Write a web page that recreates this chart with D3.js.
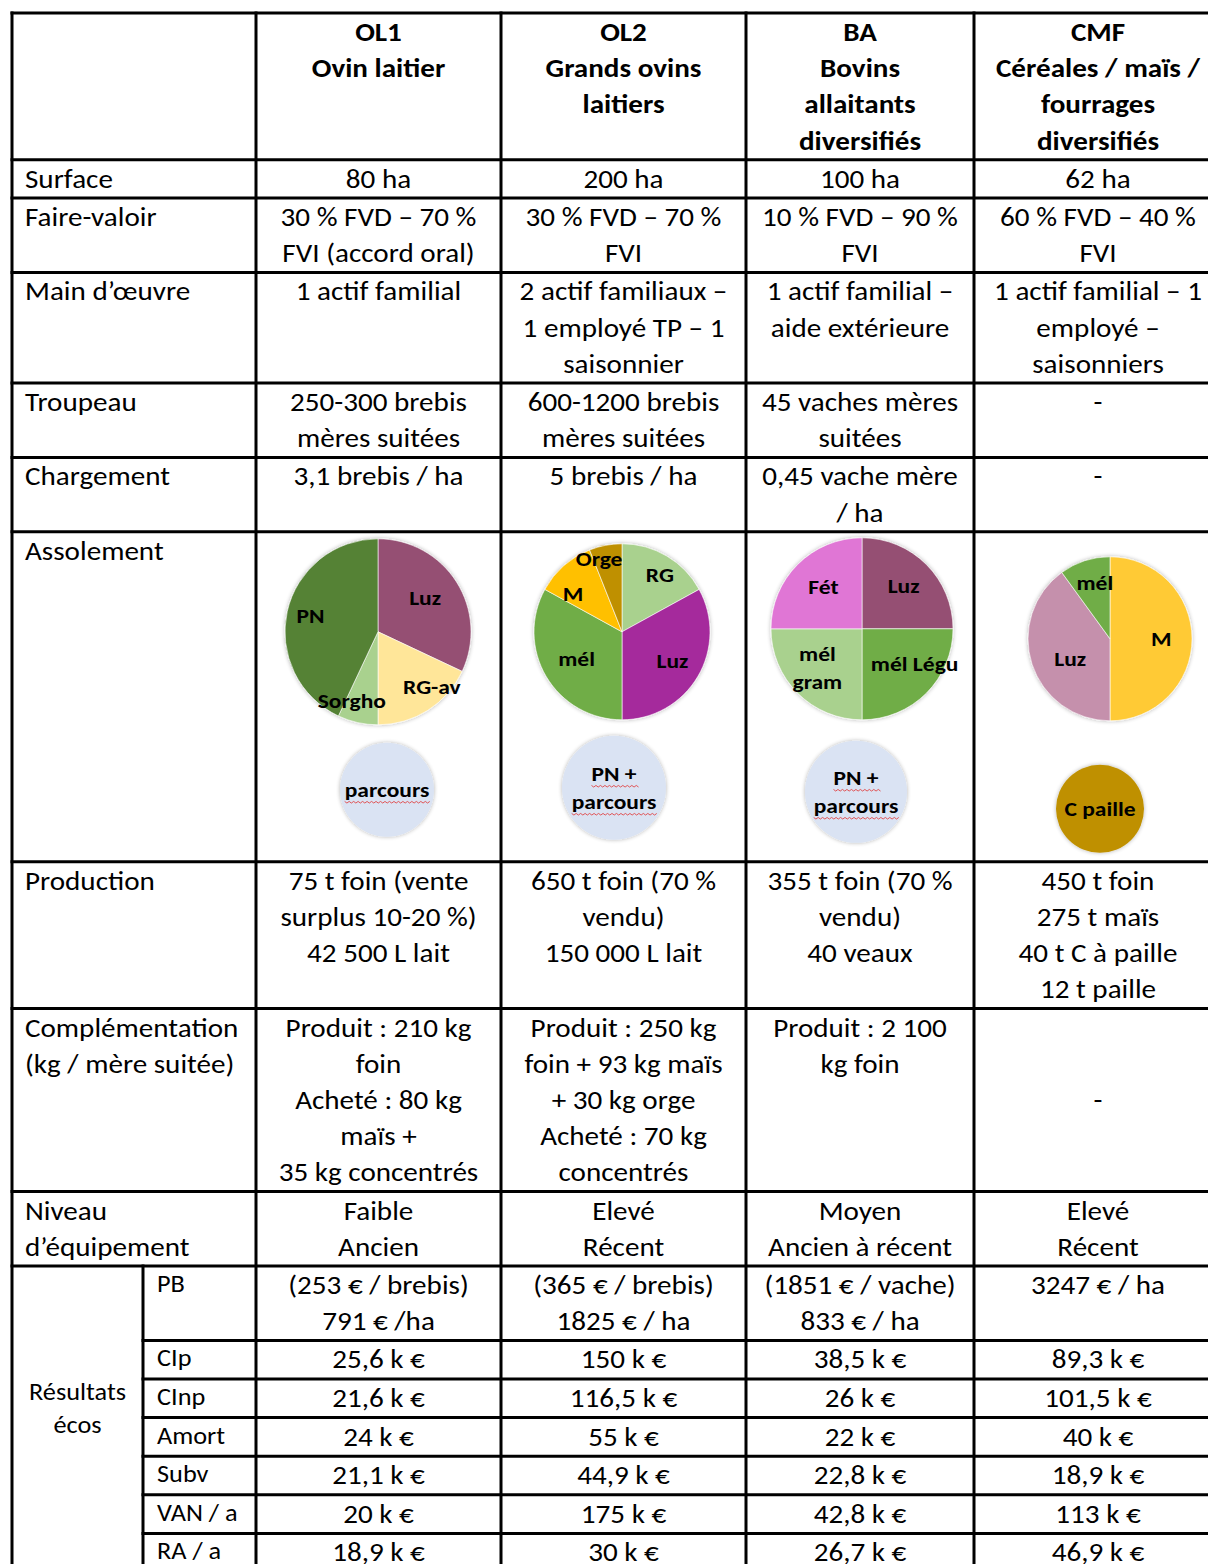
<!DOCTYPE html>
<html>
<head>
<meta charset="utf-8">
<script src="https://cdn.jsdelivr.net/npm/d3@7"></script>
<style>
  body { margin: 0; background: #fff; }
  svg { display: block; }
  text { font-family: Carlito, Lato, sans-serif; fill: #000; }
</style>
</head>
<body>
<div id="chart"></div>
<script>
// ---- data ----
const headerLines = [
  ["OL1", "Ovin laitier"],
  ["OL2", "Grands ovins", "laitiers"],
  ["BA", "Bovins", "allaitants", "diversifiés"],
  ["CMF", "Céréales / maïs /", "fourrages", "diversifiés"]
];
const rowLabels = [
  ["Surface"], ["Faire-valoir"], ["Main d’œuvre"], ["Troupeau"], ["Chargement"],
  ["Assolement"], ["Production"], ["Complémentation", "(kg / mère suitée)"],
  ["Niveau", "d’équipement"]
];
const surface = [["80 ha"], ["200 ha"], ["100 ha"], ["62 ha"]];
const faireValoir = [
  ["30 % FVD – 70 %", "FVI (accord oral)"], ["30 % FVD – 70 %", "FVI"],
  ["10 % FVD – 90 %", "FVI"], ["60 % FVD – 40 %", "FVI"]
];
const mainOeuvre = [
  ["1 actif familial"], ["2 actif familiaux –", "1 employé TP – 1", "saisonnier"],
  ["1 actif familial –", "aide extérieure"], ["1 actif familial – 1", "employé –", "saisonniers"]
];
const troupeau = [
  ["250-300 brebis", "mères suitées"], ["600-1200 brebis", "mères suitées"],
  ["45 vaches mères", "suitées"], ["-"]
];
const chargement = [["3,1 brebis / ha"], ["5 brebis / ha"], ["0,45 vache mère", "/ ha"], ["-"]];
const production = [
  ["75 t foin (vente", "surplus 10-20 %)", "42 500 L lait"],
  ["650 t foin (70 %", "vendu)", "150 000 L lait"],
  ["355 t foin (70 %", "vendu)", "40 veaux"],
  ["450 t foin", "275 t maïs", "40 t C à paille", "12 t paille"]
];
const complementation = [
  ["Produit : 210 kg", "foin", "Acheté : 80 kg", "maïs +", "35 kg concentrés"],
  ["Produit : 250 kg", "foin + 93 kg maïs", "+ 30 kg orge", "Acheté : 70 kg", "concentrés"],
  ["Produit : 2 100", "kg foin"],
  ["", "", "-"]
];
const equipement = [["Faible", "Ancien"], ["Elevé", "Récent"], ["Moyen", "Ancien à récent"], ["Elevé", "Récent"]];

const resultsTitle = ["Résultats", "écos"];
const resultLabels = ["PB", "CIp", "CInp", "Amort", "Subv", "VAN / a", "RA / a"];
const resultPB = [
  ["(253 € / brebis)", "791 € /ha"], ["(365 € / brebis)", "1825 € / ha"],
  ["(1851 € / vache)", "833 € / ha"], ["3247 € / ha"]
];
const resultCIp = ["25,6 k €", "150 k €", "38,5 k €", "89,3 k €"];
const resultCInp = ["21,6 k €", "116,5 k €", "26 k €", "101,5 k €"];
const resultAmort = ["24 k €", "55 k €", "22 k €", "40 k €"];
const resultSubv = ["21,1 k €", "44,9 k €", "22,8 k €", "18,9 k €"];
const resultVAN = ["20 k €", "175 k €", "42,8 k €", "113 k €"];
const resultRA = ["18,9 k €", "30 k €", "26,7 k €", "46,9 k €"];

// assolement pies (share of surface, %)
const ol1Crops = ["Luz", "RG-av", "Sorgho", "PN"];
const ol1Shares = [32, 18, 7, 43];
const ol2Crops = ["RG", "Luz", "mél", "M", "Orge"];
const ol2Shares = [17, 33, 33, 11, 6];
const baCrops = ["Luz", "mél Légu", "mél\ngram", "Fét"];
const baShares = [25, 25, 25, 25];
const cmfCrops = ["M", "Luz", "mél"];
const cmfShares = [50, 40, 10];
const extraAreas = [["parcours"], ["PN +", "parcours"], ["PN +", "parcours"], ["C paille"]];

// ---- layout ----
const W = 1208, H = 1564;
const lineH = 36.2, top0 = 13;
const fs = 26, sx = 1.12;   // Calibri-like widths with Lato
const x = d3.scaleLinear().domain([0, 1, 2, 3, 4, 5]).range([12, 256, 501, 746, 974, 1222]);
const xSub = 143;

const farmCells = [surface, faireValoir, mainOeuvre, troupeau, chargement, null, production, complementation, equipement];
const resultCells = [resultPB, resultCIp, resultCInp, resultAmort, resultSubv, resultVAN, resultRA];

const rows = [{ id: "head", label: [], cells: headerLines, bold: true }];
rowLabels.forEach((l, i) => rows.push({ id: "r" + i, label: l, cells: farmCells[i] }));
resultLabels.forEach((l, i) => rows.push({
  id: "res" + i, sub: l, result: true,
  cells: resultCells[i].map(c => Array.isArray(c) ? c : [c])
}));
rows.forEach(r => {
  if (!r.cells) { r.h = 330; return; }
  const n = d3.max([r.label ? r.label.length : 1, ...r.cells.map(c => c.length)]);
  r.h = r.result && n === 1 ? 38.6 : n * lineH + 2;
});
const tops = [top0, ...d3.cumsum(rows, r => r.h).map(v => v + top0)];
const y = d3.scaleOrdinal().domain(rows.map(r => r.id)).range(tops);
const bottom = tops[tops.length - 1] + 6;

const svg = d3.select("#chart").append("svg")
  .attr("width", W).attr("height", H)
  .attr("viewBox", `0 0 ${W} ${H}`);
svg.append("rect").attr("width", W).attr("height", H).attr("fill", "#fff");

const defs = svg.append("defs");
const f = defs.append("filter").attr("id", "glow")
  .attr("x", "-20%").attr("y", "-20%").attr("width", "140%").attr("height", "140%");
f.append("feGaussianBlur").attr("in", "SourceAlpha").attr("stdDeviation", 2.2).attr("result", "b");
f.append("feComponentTransfer").attr("in", "b").attr("result", "s")
  .append("feFuncA").attr("type", "linear").attr("slope", 0.3);
const fm = f.append("feMerge");
fm.append("feMergeNode").attr("in", "s");
fm.append("feMergeNode").attr("in", "SourceGraphic");

// ---- text ----
function lines(g, arr, cx, top, anchor, opts = {}) {
  const gg = g.append("g").attr("transform", `translate(${cx},${top}) scale(${sx},1)`);
  const t = gg.append("text")
    .attr("text-anchor", anchor)
    .attr("font-size", opts.size || fs)
    .attr("font-weight", opts.bold ? 700 : 400);
  arr.forEach((s, i) => t.append("tspan")
    .attr("x", 0).attr("y", (opts.base || 28) + i * (opts.lh || lineH)).text(s));
  return t;
}

const tg = svg.append("g");
rows.forEach(r => {
  const t = y(r.id);
  if (r.label) lines(tg, r.label, 25, t, "start");
  if (r.sub) lines(tg, [r.sub], 157, t, "start", { size: 23.5, base: 26 });
  if (r.cells) r.cells.forEach((c, j) =>
    lines(tg, c, (x(j + 1) + x(j + 2)) / 2, t, "middle", { bold: r.bold }));
});
const resTop = y("res0");
lines(tg, resultsTitle, (x(0) + xSub) / 2, resTop, "middle", { size: 23.5, base: 134, lh: 33 });

// ---- assolement pies ----
const assolTop = y("r5");
const pies = [
  { crops: ol1Crops, shares: ol1Shares, cx: 378, cy: 100, r: 93,
    colors: ["#955073", "#FFE699", "#A9D18E", "#548235"],
    nudge: { "RG-av": [24, 8], "Sorgho": [-14, 15], "PN": [-13, -4], "Luz": [0, -4] } },
  { crops: ol2Crops, shares: ol2Shares, cx: 622, cy: 100, r: 88,
    colors: ["#A9D18E", "#A52A9C", "#70AD47", "#FFC000", "#BF9000"],
    nudge: { "RG": [11, -11], "M": [-14, 2], "Orge": [-13, -21], "Luz": [5, 2] } },
  { crops: baCrops, shares: baShares, cx: 862, cy: 97, r: 91,
    colors: ["#955073", "#70AD47", "#A9D18E", "#E076D5"],
    nudge: { "mél Légu": [14, -3], "mél\ngram": [-6, 1], "Luz": [3, -4], "Fét": [0, -3] } },
  { crops: cmfCrops, shares: cmfShares, cx: 1110, cy: 107, r: 82,
    colors: ["#FFCA36", "#C590AC", "#70AD47"],
    nudge: { "Luz": [7, 5], "mél": [0, -9], "M": [2, 0] } }
];
const extra = [
  { cx: 387, cy: 258, r: 47, fill: "#DAE3F3", wavy: true },
  { cx: 614, cy: 256, r: 52, fill: "#DAE3F3", wavy: true },
  { cx: 856, cy: 260, r: 51, fill: "#DAE3F3", wavy: true },
  { cx: 1100, cy: 277, r: 44, fill: "#BF9000", wavy: false }
];
const pieGen = d3.pie().sort(null).value(d => d.v);

function wavy(g, t) {
  const b = t.node().getBBox();
  const yb = b.y + b.height - 1;
  let p = `M${b.x},${yb}`;
  for (let xx = b.x, k = 0; xx < b.x + b.width; xx += 2, k++)
    p += `L${xx + 2},${yb + (k % 2 ? 0 : 1.6)}`;
  g.append("path").attr("d", p).attr("fill", "none")
    .attr("stroke", "#E03C3C").attr("stroke-width", 0.8);
}

function boldLabel(g, parts, lx, ly, withWave) {
  parts.forEach((s, k) => {
    const gg = g.append("g").attr("transform",
      `translate(${lx},${ly + 7 + (k - (parts.length - 1) / 2) * 28}) scale(${sx},1)`);
    const t = gg.append("text").attr("text-anchor", "middle")
      .attr("font-size", 21).attr("font-weight", 700).text(s);
    if (withWave) wavy(gg, t);
  });
}

pies.forEach((p, i) => {
  const g = svg.append("g").attr("transform", `translate(${p.cx},${assolTop + p.cy})`);
  const color = d3.scaleOrdinal().domain(p.crops).range(p.colors);
  const arcs = pieGen(p.crops.map((c, k) => ({ c, v: p.shares[k] })));
  const arc = d3.arc().innerRadius(0).outerRadius(p.r);
  const lab = d3.arc().innerRadius(p.r * 0.6).outerRadius(p.r * 0.6);
  g.append("g").attr("filter", "url(#glow)").selectAll("path").data(arcs).join("path")
    .attr("d", arc).attr("fill", d => color(d.data.c))
    .attr("stroke", "#fff").attr("stroke-width", 0.6);
  arcs.forEach(a => {
    const [lx, ly] = lab.centroid(a);
    const n = p.nudge[a.data.c] || [0, 0];
    boldLabel(g, a.data.c.split("\n"), lx + n[0], ly + n[1], false);
  });

  const e = extra[i];
  const eg = svg.append("g").attr("transform", `translate(${e.cx},${assolTop + e.cy})`);
  eg.append("circle").attr("r", e.r).attr("fill", e.fill).attr("filter", "url(#glow)");
  boldLabel(eg, extraAreas[i], 0, 0, e.wavy);
});

// ---- grid ----
const grid = svg.append("g").attr("stroke", "#000").attr("stroke-width", 3).attr("stroke-linecap", "square");
const firstRes = rows.findIndex(r => r.result);
const hLines = tops.slice(0, rows.length).map((t, i) => ({
  y: t, x0: i > firstRes ? xSub : x(0)
}));
grid.selectAll("line.h").data(hLines).join("line")
  .attr("x1", d => d.x0).attr("x2", x(5)).attr("y1", d => d.y).attr("y2", d => d.y);
grid.selectAll("line.v").data(d3.range(5)).join("line")
  .attr("x1", d => x(d)).attr("x2", d => x(d))
  .attr("y1", top0).attr("y2", bottom);
grid.append("line").attr("x1", xSub).attr("x2", xSub).attr("y1", resTop).attr("y2", bottom);
</script>
</body>
</html>
